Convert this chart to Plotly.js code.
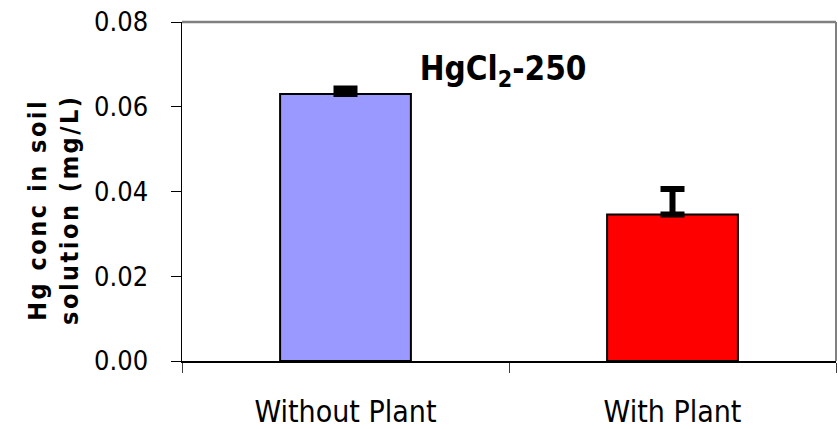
<!DOCTYPE html>
<html>
<head>
<meta charset="utf-8">
<script src="https://cdn.plot.ly/plotly-3.0.1.min.js"></script>
<style>
html, body { margin: 0; padding: 0; background: #fff; }
#chart { width: 838px; height: 429px; }
.annotation-text { letter-spacing: 2.5px; }
</style>
</head>
<body>
<div id="chart"></div>
<script>
const categories = ["Without Plant", "With Plant"];
const values = [0.063, 0.0346];
const errors = [0.0013, 0.006];
const barColors = ["#9999FF", "#FF0000"];
const yTickValues = [0, 0.02, 0.04, 0.06, 0.08];
const yTickLabels = ["0.00", "0.02", "0.04", "0.06", "0.08"];
const chartTitle = "<b>HgCl<sub>2</sub>-250</b>";
const yTitle = "<b>Hg conc in soil<br>solution (mg/L)</b>";

const narrow = "'DejaVu Sans Condensed', 'Liberation Sans Narrow', sans-serif";

const trace = {
  type: "bar",
  x: categories,
  y: values,
  marker: { color: barColors, line: { color: "#000", width: 2 } },
  error_y: { type: "data", array: errors, symmetric: false, arrayminus: [0, 0], visible: true, color: "#000", thickness: 6, width: 12 },
  hoverinfo: "none"
};

const layout = {
  width: 838, height: 429,
  margin: { l: 182, r: 2, t: 22, b: 68 },
  paper_bgcolor: "#fff", plot_bgcolor: "#fff",
  showlegend: false,
  bargap: 0.6,
  title: {
    text: chartTitle,
    font: { family: narrow, size: 33, color: "#000" },
    x: 0.491, xref: "paper", xanchor: "center",
    y: 0.862, yref: "paper", yanchor: "middle"
  },
  xaxis: {
    type: "category",
    showline: true, linecolor: "#000", linewidth: 1.5,
    ticks: "outside", ticklen: 10, tickcolor: "#404040", tickwidth: 1,
    tickson: "boundaries",
    ticklabelstandoff: 23,
    tickfont: { family: narrow, size: 30, color: "#000" },
    showgrid: false, zeroline: false
  },
  yaxis: {
    range: [0, 0.08],
    tickvals: yTickValues, ticktext: yTickLabels,
    showline: true, linecolor: "#000", linewidth: 1.5,
    ticks: "outside", ticklen: 10, tickcolor: "#000", tickwidth: 1,
    ticklabelstandoff: 17,
    tickfont: { family: narrow, size: 27, color: "#000" },
    showgrid: false, zeroline: false
  },
  annotations: [
    {
      text: yTitle, xref: "paper", yref: "paper",
      x: -0.196, y: 0.445, xanchor: "center", yanchor: "middle",
      textangle: -90, showarrow: false, align: "center",
      font: { family: narrow, size: 25, color: "#000" }
    }
  ],
  shapes: [
    { type: "line", xref: "paper", yref: "paper", x0: 0, x1: 1, y0: 1, y1: 1, line: { color: "#808080", width: 2.5 } },
    { type: "line", xref: "paper", yref: "paper", x0: 1, x1: 1, y0: 0, y1: 1, line: { color: "#808080", width: 2 } }
  ]
};

Plotly.newPlot("chart", [trace], layout, { staticPlot: true });
</script>
</body>
</html>
